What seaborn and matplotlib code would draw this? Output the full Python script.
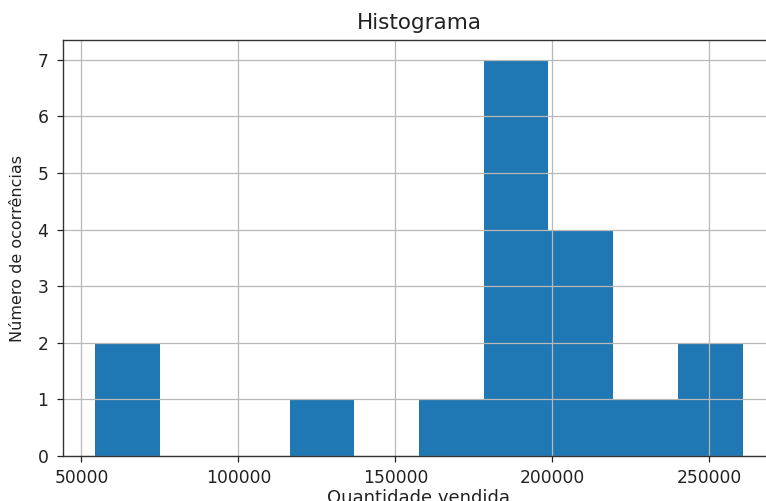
import matplotlib
matplotlib.use("Agg")
import matplotlib.pyplot as plt
import seaborn as sns
import pandas as pd

# Monthly quantities sold (18 observations)
quantidade = [
    54450, 62000,
    128000,
    168000,
    181500, 184000, 187200, 189900, 192300, 194800, 197100,
    201500, 206300, 210800, 215900,
    228000,
    248700, 260640,
]
n_bins = 10

titulo = "Histograma"
rotulo_x = "Quantidade vendida"
rotulo_y = "Número de ocorrências"

df = pd.DataFrame({"quantidade": quantidade})

plt.rcParams["font.family"] = ["DejaVu Sans"]

fig = plt.figure(figsize=(7.66, 5.01), dpi=100)
ax = fig.add_axes([63 / 766, 45 / 501, 712 / 766, 416 / 501])

sns.histplot(data=df, x="quantidade", bins=n_bins, color="#1f77b4",
             alpha=1.0, linewidth=0, ax=ax)

ax.grid(True, color="#b8b8b8", linewidth=0.9)
ax.set_axisbelow("line")
ax.set_xticks([50000, 100000, 150000, 200000, 250000])
ax.set_xticklabels(["50000", "100000", "150000", "200000", "250000"])
ax.tick_params(axis="both", labelsize=12.3, length=4.5, width=0.9, colors="#222222")
ax.tick_params(axis="y", pad=6)
ax.tick_params(axis="x", pad=5)

ax.set_title(titulo, fontsize=15.5, color="#222222", pad=8)
ax.set_xlabel(rotulo_x, fontsize=13, color="#222222", labelpad=1)
ax.set_ylabel(rotulo_y, fontsize=11.5, color="#222222", labelpad=9)

for s in ax.spines.values():
    s.set_color("#333333")
    s.set_linewidth(1.0)

fig.savefig("out.png", dpi=100)
